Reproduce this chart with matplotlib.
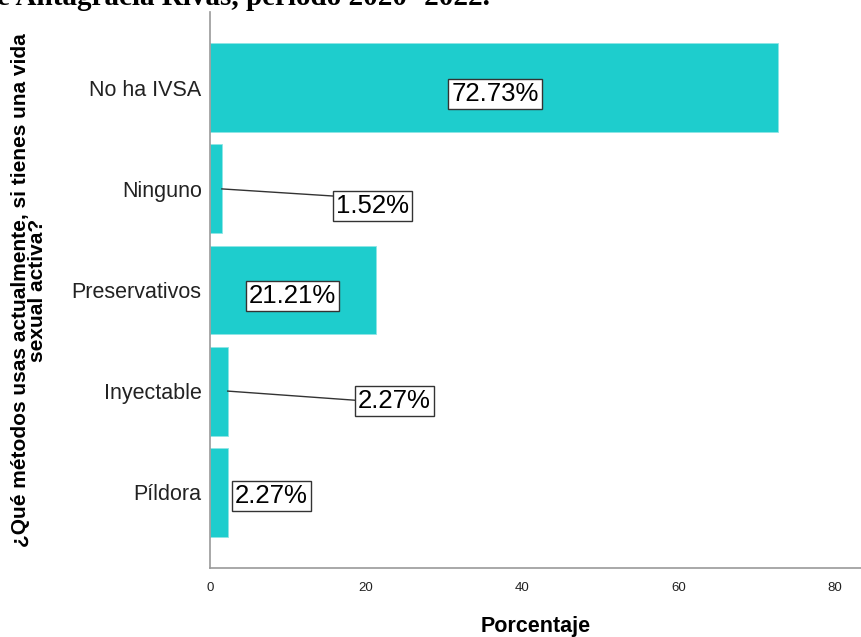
import matplotlib
matplotlib.use("Agg")
import matplotlib.pyplot as plt

categorias = ["No ha IVSA", "Ninguno", "Preservativos", "Inyectable", "Píldora"]
porcentajes = [72.73, 1.52, 21.21, 2.27, 2.27]
etiquetas = ["72.73%", "1.52%", "21.21%", "2.27%", "2.27%"]
# label anchor (x in data units, y offset in category units)
pos_etiqueta = [(36.5, 0.06), (20.8, 0.17), (10.6, 0.06), (23.6, 0.10), (7.9, 0.04)]
# leader line end offset, None = no line
fin_linea = [None, 0.07, None, 0.09, None]

plt.rcParams["font.family"] = ["Liberation Sans", "DejaVu Sans"]

fig = plt.figure(figsize=(8.61, 6.37), dpi=100)
ax = fig.add_axes([210 / 861, 69 / 637, 651 / 861, 556 / 637])

color = "#1ecdcd"
y = list(range(len(categorias)))
ax.barh(y, porcentajes, height=0.88, color=color, edgecolor="#8ee6e6", linewidth=0.6, zorder=2)

for i in y:
    tx, dy = pos_etiqueta[i]
    if fin_linea[i] is not None:
        ax.plot([porcentajes[i], tx - 5.1], [i, i + fin_linea[i]], color="#333333", lw=1.0, zorder=3)
    ax.text(tx, i + dy, etiquetas[i], fontsize=18.5, ha="center", va="center", zorder=4,
            bbox=dict(boxstyle="square,pad=0.12", fc="white", ec="#333333", lw=1.0))

ax.set_xlim(0, 83.4)
ax.set_ylim(4.75, -0.75)
ax.set_yticks(y)
ax.set_yticklabels(categorias, fontsize=15.5, color="#222222")
ax.set_xticks([0, 20, 40, 60, 80])
ax.tick_params(axis="x", labelsize=9.5, length=0, pad=10, colors="#222222")
ax.tick_params(axis="y", length=0, pad=6)

for s in ["top", "right"]:
    ax.spines[s].set_visible(False)
for s in ["left", "bottom"]:
    ax.spines[s].set_color("#999999")
    ax.spines[s].set_linewidth(1.2)

ax.set_xlabel("Porcentaje", fontsize=15.5, fontweight="bold", labelpad=16)
ax.set_ylabel("¿Qué métodos usas actualmente, si tienes una vida\nsexual activa?",
              fontsize=15, fontweight="bold", linespacing=0.9)
ax.yaxis.set_label_coords(-0.25, 0.5)

fig.text(490 / 861, 1 - 5 / 637, "e Antagracia Rivas, periodo 2020- 2022.",
         fontsize=21, fontweight="bold", family="Liberation Serif",
         ha="right", va="baseline")

fig.savefig("out.png", dpi=100)
